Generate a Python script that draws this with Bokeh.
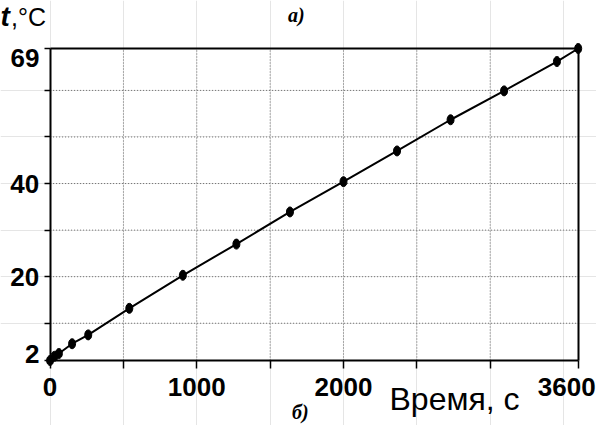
from bokeh.plotting import figure
from bokeh.models import Range1d, FixedTicker, Label, LinearAxis
from bokeh.embed import file_html
from bokeh.resources import INLINE

# data
time_s = [0, 30, 60, 150, 260, 540, 905, 1270, 1635, 2000, 2365, 2730, 3095, 3455, 3600]
temp_c = [2, 2.9, 3.5, 5.6, 7.5, 13.2, 20.3, 27.0, 33.9, 40.4, 47.0, 53.7, 59.9, 66.2, 69]

x_min, x_max = 0, 3600
y_min, y_max = 2, 69
x_ticks = [0, 500, 1000, 1500, 2000, 2500, 3000, 3600]
x_tick_labels = {0: "0", 1000: "1000", 2000: "2000"}
x_grid = [500, 1000, 1500, 2000, 2500, 3000]
y_ticks = [2, 10, 20, 30, 40, 50, 60, 69]
y_tick_labels = {20: "20", 40: "40"}
y_grid = [10, 20, 30, 40, 50, 60]

SANS = "Liberation Sans"
SERIF = "Liberation Serif"

W, H = 596, 425
FL, FR, FT, FB = 49.6, 577.7, 48.0, 360.0   # box edges in canvas pixels
sx = (FR - FL) / (x_max - x_min)
sy = (FB - FT) / (y_max - y_min)

p = figure(width=W, height=H, output_backend="svg", toolbar_location=None,
           x_range=Range1d(x_min - FL / sx, x_max + (W - FR) / sx),
           y_range=Range1d(y_min - (H - FB) / sy, y_max + FT / sy),
           x_axis_location=None, y_axis_location=None, min_border=0)
p.background_fill_color = "white"
p.border_fill_color = "white"
p.outline_line_color = None


def style_axis(ax, ticks, labels, tick_out, standoff):
    ax.axis_line_width = 2
    ax.axis_line_color = "black"
    ax.major_tick_line_color = "black"
    ax.major_tick_line_width = 1.5
    ax.minor_tick_line_color = None
    ax.major_tick_in = 0
    ax.major_tick_out = tick_out
    ax.major_label_standoff = standoff
    ax.major_label_text_font = SANS
    ax.major_label_text_font_size = "26px"
    ax.major_label_text_font_style = "bold"
    ax.major_label_text_color = "black"
    ax.ticker = FixedTicker(ticks=ticks)
    ax.major_label_overrides = {t: labels.get(t, "") for t in ticks}


bottom = LinearAxis(fixed_location=y_min, bounds=(x_min, x_max))
style_axis(bottom, x_ticks, x_tick_labels, 8, 9)
p.add_layout(bottom, "below")

left = LinearAxis(fixed_location=x_min, bounds=(y_min, y_max))
style_axis(left, y_ticks, y_tick_labels, 6, 5)
p.add_layout(left, "left")

top = LinearAxis(fixed_location=y_max, bounds=(x_min, x_max))
style_axis(top, [], {}, 0, 0)
p.add_layout(top, "above")

right = LinearAxis(fixed_location=x_max, bounds=(y_min, y_max))
style_axis(right, [], {}, 0, 0)
p.add_layout(right, "right")

# dotted grid inside the box
p.segment(x0=x_grid, y0=[y_min] * len(x_grid), x1=x_grid, y1=[y_max] * len(x_grid),
          line_color="#6a6a6a", line_dash="1 2", line_width=1)
p.segment(x0=[x_min] * len(y_grid), y0=y_grid, x1=[x_max] * len(y_grid), y1=y_grid,
          line_color="#6a6a6a", line_dash="1 2", line_width=1)

p.line(time_s, temp_c, line_color="black", line_width=2)
p.ellipse(time_s, temp_c, width=7, height=10, width_units="screen", height_units="screen",
          fill_color="black", line_color="black")


def lab(text, x, y, dx, dy, font=SANS, size="26px", style="normal", align="left"):
    p.add_layout(Label(x=x, y=y, x_offset=dx, y_offset=dy, text=text,
                       text_font=font, text_font_size=size, text_font_style=style,
                       text_align=align, text_baseline="middle", text_color="black"))


# y labels at the ends of the axis
lab("69", x_min, y_max, -10.6, -9.5, style="bold", align="right")
lab("2", x_min, y_min, -10.6, 6.5, style="bold", align="right")
# x end label
lab("3600", x_max, y_min, -11.5, -26, style="bold", align="center")
# axis titles
lab("Время, с", x_min, y_min, 339.4, -38, size="32px")
lab("t", x_min, y_max, -49.6, 32, size="28px", style="bold italic")
lab(",°C", x_min, y_max, -39, 32, size="25px")
# panel letters
lab("а)", x_min, y_max, 238, 34, font=SERIF, size="20px", style="bold italic")
lab("б)", x_min, y_min, 242, -51, font=SERIF, size="20px", style="bold italic")

open("out.html", "w").write(file_html(p, INLINE))
